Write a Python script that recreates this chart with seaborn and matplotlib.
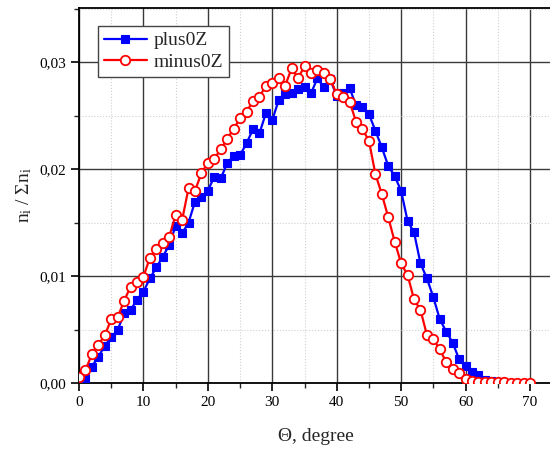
import matplotlib
matplotlib.use("Agg")
import matplotlib.pyplot as plt
import seaborn as sns
import pandas as pd
from matplotlib.ticker import MultipleLocator, FixedLocator

# ---- data ----
plus_theta = list(range(1, 66))
plus_vals = [0.00044, 0.00153, 0.00246, 0.00346, 0.00427, 0.00495, 0.0065, 0.0068, 0.0078, 0.00853,
             0.00978, 0.0108, 0.0118, 0.0129, 0.01467, 0.01399, 0.01498, 0.01695, 0.01735, 0.01798,
             0.01928, 0.01913, 0.02053, 0.02125, 0.0213, 0.0224, 0.02371, 0.02333, 0.0252, 0.02458,
             0.02645, 0.02701, 0.02707, 0.02745, 0.02763, 0.02707, 0.02847, 0.02763, 0.02838, 0.02682,
             0.02713, 0.02754, 0.02598, 0.02583, 0.02514, 0.02358, 0.02203, 0.02028, 0.01935, 0.01794,
             0.01514, 0.01408, 0.01118, 0.00978, 0.00801, 0.00595, 0.0048, 0.00377, 0.00221, 0.00159,
             0.00106, 0.00072, 0.00028, 0.0002, 0.0001]

minus_theta = list(range(0, 71))
minus_vals = [0.0006, 0.00121, 0.00268, 0.00358, 0.00445, 0.00595, 0.00614, 0.00769, 0.0090, 0.0094,
              0.00994, 0.0117, 0.01255, 0.01311, 0.01368, 0.0157, 0.01523, 0.0182, 0.01798, 0.0196,
              0.0206, 0.02097, 0.02184, 0.02282, 0.02375, 0.02474, 0.02533, 0.02638, 0.02676, 0.02776,
              0.02801, 0.02847, 0.02779, 0.02941, 0.02847, 0.02963, 0.029, 0.02925, 0.029, 0.02843,
              0.02698, 0.02676, 0.02629, 0.02442, 0.02371, 0.02265, 0.01953, 0.01766, 0.01548, 0.01321,
              0.01118, 0.01009, 0.00782, 0.00682, 0.00449, 0.00408, 0.00315, 0.00193, 0.00128, 0.0009,
              0.00035, 0.00019, 0.00014, 0.0001, 0.00008, 0.00006, 0.00005, 0.00004, 0.00003, 0.00003,
              0.00002]

x_ticks = [0, 10, 20, 30, 40, 50, 60, 70]
y_ticks = [0.0, 0.01, 0.02, 0.03]
y_tick_labels = ["0,00", "0,01", "0,02", "0,03"]
series_names = ["plus0Z", "minus0Z"]
x_label = "Θ, degree"
y_label = r"$\mathregular{n_i\ /\ \Sigma n_i}$"

# ---- style ----
sns.set_style("ticks")
plt.rcParams["font.family"] = ["Liberation Serif", "DejaVu Serif"]
plt.rcParams["mathtext.fontset"] = "stix"

fig = plt.figure(figsize=(5.5, 4.5), dpi=100)
ax = fig.add_axes([79 / 550, (450 - 383) / 450, (552 - 79) / 550, (383 - 8) / 450])

df_plus = pd.DataFrame({"theta": plus_theta, "val": plus_vals})
df_minus = pd.DataFrame({"theta": minus_theta, "val": minus_vals})

sns.lineplot(data=df_plus, x="theta", y="val", ax=ax, color="#0000FF", lw=1.6,
             marker="s", markersize=5.8, markerfacecolor="#0000FF", markeredgecolor="#0000FF",
             markeredgewidth=0.8, label=series_names[0], zorder=3)
sns.lineplot(data=df_minus, x="theta", y="val", ax=ax, color="#FF0000", lw=1.6,
             marker="o", markersize=6.8, markerfacecolor="white", markeredgecolor="#FF0000",
             markeredgewidth=1.3, label=series_names[1], zorder=4)

ax.set_xlim(0, 70 * (552 - 79) / (530 - 79))
ax.set_ylim(0, 0.03505)
ax.xaxis.set_major_locator(FixedLocator(x_ticks))
ax.xaxis.set_minor_locator(MultipleLocator(5))
ax.yaxis.set_major_locator(FixedLocator(y_ticks))
ax.set_yticklabels(y_tick_labels)
ax.yaxis.set_minor_locator(MultipleLocator(0.005))

ax.grid(which="major", color="#3a3a3a", lw=1.0, ls="-", zorder=0)
ax.grid(which="minor", color="#d0d0d0", lw=0.8, ls=":", zorder=0)
ax.set_axisbelow(True)

ax.tick_params(which="major", direction="out", length=6, width=1.2, labelsize=11, colors="black", pad=3)
ax.tick_params(which="minor", direction="out", length=3.5, width=1.0)
for s in ax.spines.values():
    s.set_linewidth(1.3)
    s.set_color("black")

ax.set_xlabel(x_label, fontsize=14, labelpad=14)
ax.set_ylabel(y_label, fontsize=14, labelpad=4)

leg = ax.legend(loc="upper left", bbox_to_anchor=(0.04, 0.952), borderaxespad=0,
                fontsize=14, fancybox=False, framealpha=1, edgecolor="#444444",
                handlelength=2.2, handletextpad=0.35, borderpad=0.3, labelspacing=0.2)
leg.get_frame().set_linewidth(1.0)

fig.savefig("out.png", dpi=100)
